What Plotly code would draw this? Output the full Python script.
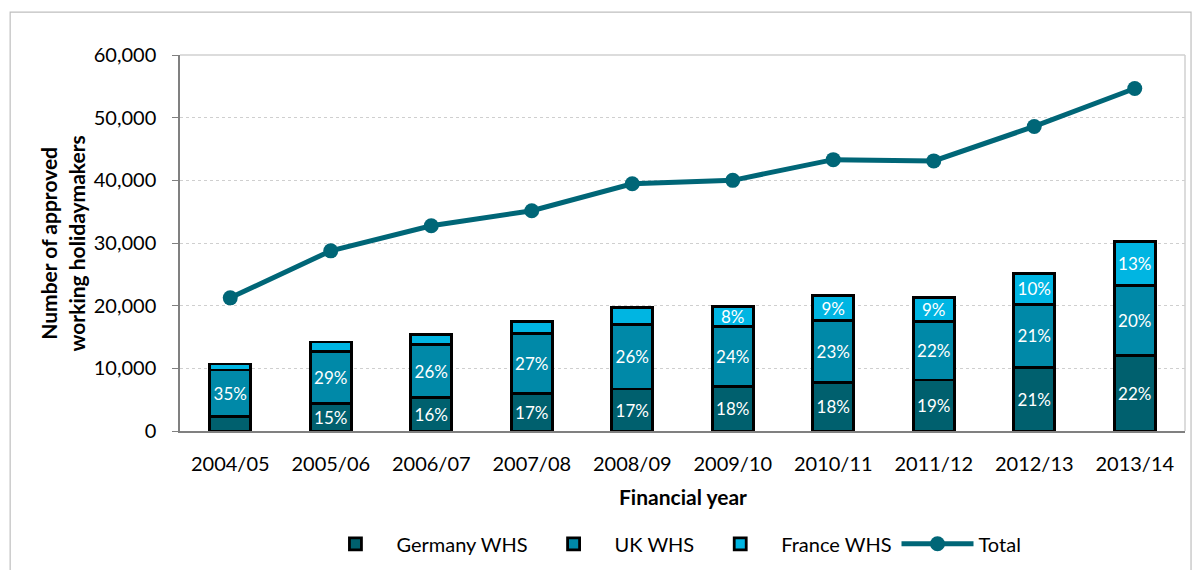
import plotly.graph_objects as go

years = ["2004/05", "2005/06", "2006/07", "2007/08", "2008/09",
         "2009/10", "2010/11", "2011/12", "2012/13", "2013/14"]
germany = [2300, 4350, 5300, 5975, 6700, 7150, 7790, 8150, 10150, 12080]
uk = [7440, 8400, 8520, 9550, 10330, 9560, 9850, 9300, 10080, 11100]
france = [950, 1440, 1550, 1960, 2720, 3190, 3950, 3880, 4930, 7050]
total = [21250, 28750, 32750, 35150, 39450, 40000, 43300, 43100, 48600, 54650]
germany_lbl = ["", "15%", "16%", "17%", "17%", "18%", "18%", "19%", "21%", "22%"]
uk_lbl = ["35%", "29%", "26%", "27%", "26%", "24%", "23%", "22%", "21%", "20%"]
france_lbl = ["", "", "", "", "", "8%", "9%", "9%", "10%", "13%"]
y_ticks = [0, 10000, 20000, 30000, 40000, 50000, 60000]

FONT = "Lato, Open Sans, sans-serif"

fig = go.Figure()
for name, vals, lbl, col in [
    ("Germany WHS", germany, germany_lbl, "#00606E"),
    ("UK WHS", uk, uk_lbl, "#0089A8"),
    ("France WHS", france, france_lbl, "#00B5E2"),
]:
    fig.add_trace(go.Bar(
        x=years, y=vals, name=name, text=lbl,
        textposition="inside", insidetextanchor="middle", textangle=0,
        constraintext="none",
        textfont=dict(color="white", size=17, family=FONT),
        marker=dict(color=col, line=dict(color="black", width=2.8)),
        width=0.41,
    ))

fig.add_trace(go.Scatter(
    x=years, y=total, name="Total", mode="lines+markers",
    line=dict(color="#006677", width=5),
    marker=dict(color="#006677", size=15),
))

fig.update_layout(
    width=1200, height=570,
    autosize=False,
    barmode="stack",
    plot_bgcolor="white", paper_bgcolor="white",
    margin=dict(l=180, r=15, t=55, b=139, autoexpand=False),
    font=dict(family=FONT, size=20, color="black"),
    showlegend=True,
    legend=dict(orientation="h", x=0.488, xanchor="center", y=-0.30, yanchor="middle",
                font=dict(size=20, family=FONT), traceorder="normal",
                itemwidth=72),
    xaxis=dict(range=[-0.5, 9.5], showline=True, linecolor="#808080", linewidth=1.5,
               ticks="", tickfont=dict(size=20), showgrid=False,
               ticklabelstandoff=14, automargin=False),
    yaxis=dict(range=[0, 60000], tickvals=y_ticks, tickformat=",",
               showline=True, linecolor="#808080", linewidth=1.5,
               ticks="outside", ticklen=6, tickcolor="#808080",
               showgrid=True, gridcolor="#CFCFCF", griddash="dot", gridwidth=1,
               tickfont=dict(size=20), zeroline=False, ticklabelstandoff=12,
               automargin=False),
    shapes=[
        dict(type="rect", xref="paper", yref="paper", x0=-0.169, x1=1.006,
             y0=-0.40, y1=1.114, line=dict(color="#BFBFBF", width=1.2)),
        dict(type="line", xref="paper", yref="paper", x0=0, x1=1, y0=1, y1=1,
             line=dict(color="#D0D0D0", width=1.5)),
        dict(type="line", xref="paper", yref="paper", x0=1, x1=1, y0=0, y1=1,
             line=dict(color="#D0D0D0", width=1.5)),
    ],
    annotations=[
        dict(text="<b>Number of approved<br>working holidaymakers</b>",
             xref="paper", yref="paper", x=-0.117, y=0.5, textangle=-90,
             showarrow=False, font=dict(size=21, family=FONT),
             xanchor="center", yanchor="middle"),
        dict(text="<b>Financial year</b>",
             xref="paper", yref="paper", x=0.5, y=-0.1755,
             showarrow=False, font=dict(size=21, family=FONT),
             xanchor="center", yanchor="middle"),
    ],
)

fig.write_html("out.html", config={"displayModeBar": False},
               post_script="document.body.style.margin='0';")
